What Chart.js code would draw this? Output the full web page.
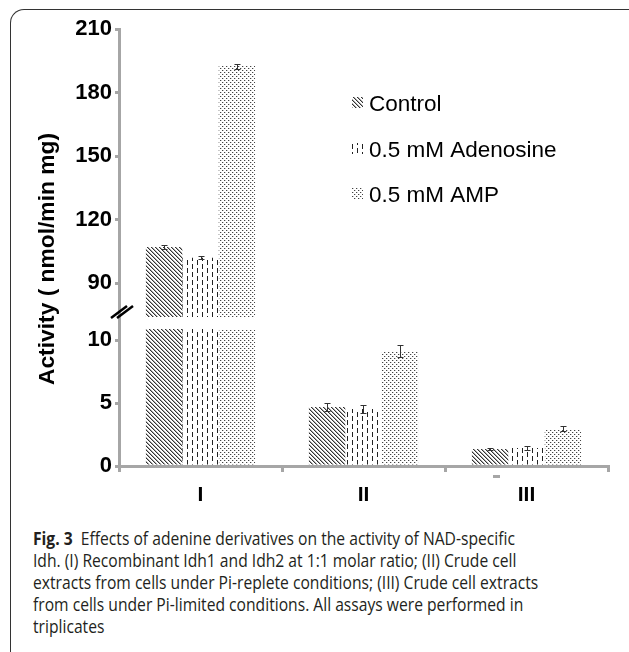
<!DOCTYPE html>
<html>
<head>
<meta charset="utf-8">
<title>Fig. 3 Idh activity</title>
<script src="https://cdn.jsdelivr.net/npm/chart.js@4.4.0/dist/chart.umd.min.js"></script>
<style>
  html, body { margin: 0; padding: 0; background: #fff; }
  body { width: 629px; height: 652px; position: relative; overflow: hidden; }
  .frame {
    position: absolute; left: 10px; top: 9px; width: 700px; height: 700px;
    border-top: 1px solid #333; border-left: 1px solid #333; border-top-left-radius: 14px;
  }
  #activityChart { position: absolute; left: 0; top: 0; }
  .caption {
    position: absolute; left: 33px; top: 527px;
    font-family: "Open Sans", "Noto Sans", sans-serif; font-size: 18.5px; line-height: 22px;
    color: #231f20; white-space: nowrap; transform-origin: 0 0;
  }
  .caption b { font-weight: 700; }
</style>
</head>
<body>
<div class="frame"></div>
<canvas id="activityChart" width="629" height="512"></canvas>
<div class="caption" id="caption">
  <div><span id="capLine1"><b>Fig. 3</b>&nbsp; Effects of adenine derivatives on the activity of NAD-specific</span></div>
  <div>Idh. (I) Recombinant Idh1 and Idh2 at 1:1 molar ratio; (II) Crude cell</div>
  <div>extracts from cells under Pi-replete conditions; (III) Crude cell extracts</div>
  <div>from cells under Pi-limited conditions. All assays were performed in</div>
  <div>triplicates</div>
</div>
<script>
  // Data
  const groups = ["I", "II", "III"];
  const seriesNames = ["Control", "0.5 mM Adenosine", "0.5 mM AMP"];
  const controlValues = [107, 4.68, 1.35];
  const adenosineValues = [102, 4.52, 1.43];
  const ampValues = [192.5, 9.13, 2.94];
  const controlErrors = [0.8, 0.3, 0.05];
  const adenosineErrors = [0.6, 0.3, 0.12];
  const ampErrors = [1.2, 0.5, 0.2];
  const upperTicks = [90, 120, 150, 180, 210];
  const lowerTicks = [0, 5, 10];

  // Broken axis: lower part 0..lowerMax, upper part upperMin..upperMax
  const lowerMax = 11.83;
  const lowerBarCap = 10.87;
  const upperMin = 74;
  const upperMax = 210;

  const fontFamily = '"Liberation Sans", Arial, Helvetica, sans-serif';
  const axisGray = "#a6a6a6";

  const allValues = [controlValues, adenosineValues, ampValues];
  const allErrors = [controlErrors, adenosineErrors, ampErrors];

  // Fill patterns for the three series
  function makePattern(w, h, paint) {
    const tile = document.createElement("canvas");
    tile.width = w;
    tile.height = h;
    const g = tile.getContext("2d");
    g.fillStyle = "#fff";
    g.fillRect(0, 0, w, h);
    paint(g);
    return g.createPattern(tile, "repeat");
  }

  const controlPattern = makePattern(4, 4, (g) => {
    for (let i = 0; i < 4; i++) {
      g.fillStyle = "#333";
      g.fillRect(i, i, 1, 1);
      g.fillStyle = "#aaa";
      g.fillRect((i + 1) % 4, i, 1, 1);
    }
  });

  const adenosinePattern = makePattern(10, 8, (g) => {
    g.fillStyle = "#222";
    g.fillRect(2, 0, 1, 5);
    g.fillRect(7, 4, 1, 4);
    g.fillRect(7, 0, 1, 1);
  });

  const ampPattern = makePattern(4, 4, (g) => {
    g.fillStyle = "#444";
    g.fillRect(0, 0, 1, 1);
    g.fillRect(2, 2, 1, 1);
    g.fillStyle = "#ccc";
    g.fillRect(1, 0, 1, 1);
    g.fillRect(3, 2, 1, 1);
  });

  const patterns = [controlPattern, adenosinePattern, ampPattern];

  // upper datasets only carry values above the break, lower ones are capped below it
  const upperSets = allValues.map((vals, s) => ({
    label: seriesNames[s],
    data: vals.map((v) => (v > lowerMax ? v : null)),
    backgroundColor: patterns[s],
    borderWidth: 0,
    yAxisID: "yUpper",
    stack: "s" + s,
  }));
  const lowerSets = allValues.map((vals, s) => ({
    label: seriesNames[s],
    data: vals.map((v) => Math.min(v, lowerBarCap)),
    backgroundColor: patterns[s],
    borderWidth: 0,
    yAxisID: "yLower",
    stack: "s" + s,
  }));

  // Error bars, axis break marks, legend and y title
  const extrasPlugin = {
    id: "extras",
    afterDatasetsDraw(chart) {
      const ctx = chart.ctx;
      const yUp = chart.scales.yUpper;
      const yLo = chart.scales.yLower;
      ctx.save();
      ctx.strokeStyle = "#333";
      ctx.lineWidth = 1;
      allValues.forEach((vals, s) => {
        const meta = chart.getDatasetMeta(3 + s);
        vals.forEach((v, i) => {
          const scale = v > lowerMax ? yUp : yLo;
          const x = Math.round(meta.data[i].x) + 0.5;
          const top = Math.round(scale.getPixelForValue(v + allErrors[s][i])) + 0.5;
          const bot = Math.round(scale.getPixelForValue(v - allErrors[s][i])) + 0.5;
          ctx.beginPath();
          ctx.moveTo(x, top);
          ctx.lineTo(x, bot);
          ctx.moveTo(x - 3, top);
          ctx.lineTo(x + 3, top);
          ctx.moveTo(x - 3, bot);
          ctx.lineTo(x + 3, bot);
          ctx.stroke();
        });
      });
      ctx.restore();
    },
    afterDraw(chart) {
      const ctx = chart.ctx;
      ctx.save();

      // "//" break mark on the y axis
      ctx.strokeStyle = "#000";
      ctx.lineWidth = 2.5;
      ctx.beginPath();
      ctx.moveTo(111, 318);
      ctx.lineTo(127, 306);
      ctx.moveTo(117, 318);
      ctx.lineTo(133, 306);
      ctx.stroke();

      // small stray mark under the x axis
      ctx.fillStyle = axisGray;
      ctx.fillRect(493, 475, 7, 3);

      // y axis title
      ctx.fillStyle = "#000";
      ctx.font = "bold 22.8px " + fontFamily;
      ctx.textAlign = "center";
      ctx.textBaseline = "middle";
      ctx.translate(48, 259);
      ctx.rotate(-Math.PI / 2);
      ctx.fillText("Activity ( nmol/min mg)", 0, 0);
      ctx.setTransform(1, 0, 0, 1, 0, 0);

      // legend
      ctx.font = "22.5px " + fontFamily;
      ctx.textAlign = "left";
      ctx.textBaseline = "alphabetic";
      const rows = [111, 157, 202];
      seriesNames.forEach((name, s) => {
        ctx.fillStyle = patterns[s];
        ctx.fillRect(352, rows[s] - 14, 11, 11);
        ctx.fillStyle = "#000";
        ctx.fillText(name, 369, rows[s]);
      });
      ctx.restore();
    },
  };

  const yCommon = {
    type: "linear",
    position: "left",
    stack: "activity",
    stacked: false,
    grid: { drawOnChartArea: false, tickLength: 4, color: axisGray, lineWidth: 3 },
    border: { color: axisGray, width: 3 },
    ticks: { color: "#000", padding: 3, font: { family: fontFamily, size: 22, weight: "bold" } },
    afterFit: (scale) => { scale.width = 119; },
  };

  new Chart(document.getElementById("activityChart"), {
    type: "bar",
    data: {
      labels: groups,
      datasets: upperSets.concat(lowerSets),
    },
    options: {
      responsive: false,
      animation: false,
      layout: { padding: { top: 29, right: 21, left: 0, bottom: 4 } },
      datasets: { bar: { categoryPercentage: 0.67, barPercentage: 1.0 } },
      plugins: { legend: { display: false }, tooltip: { enabled: false } },
      scales: {
        x: {
          offset: true,
          grid: { offset: true, drawOnChartArea: false, tickLength: 6, color: axisGray, lineWidth: 3 },
          border: { color: axisGray, width: 3 },
          ticks: { color: "#000", padding: 11, font: { family: fontFamily, size: 21, weight: "bold" } },
          afterFit: (scale) => { scale.height = 42; },
        },
        yUpper: Object.assign({}, yCommon, {
          weight: 2,
          stackWeight: 288,
          min: upperMin,
          max: upperMax,
          afterBuildTicks: (scale) => { scale.ticks = upperTicks.map((v) => ({ value: v })); },
        }),
        yLower: Object.assign({}, yCommon, {
          weight: 1,
          stackWeight: 149,
          min: 0,
          max: lowerMax,
          afterBuildTicks: (scale) => { scale.ticks = lowerTicks.map((v) => ({ value: v })); },
        }),
      },
    },
    plugins: [extrasPlugin],
  });

  // squeeze the caption to the width of the printed figure legend
  const caption = document.getElementById("caption");
  const line1 = document.getElementById("capLine1");
  const fitCaption = () => {
    const w = line1.getBoundingClientRect().width / (caption.style.transform ? parseFloat(caption.dataset.scale) : 1);
    if (w > 0) {
      const k = 482 / w;
      caption.dataset.scale = k;
      caption.style.transform = "scaleX(" + k + ")";
    }
  };
  fitCaption();
  if (document.fonts) document.fonts.ready.then(fitCaption);
</script>
</body>
</html>
